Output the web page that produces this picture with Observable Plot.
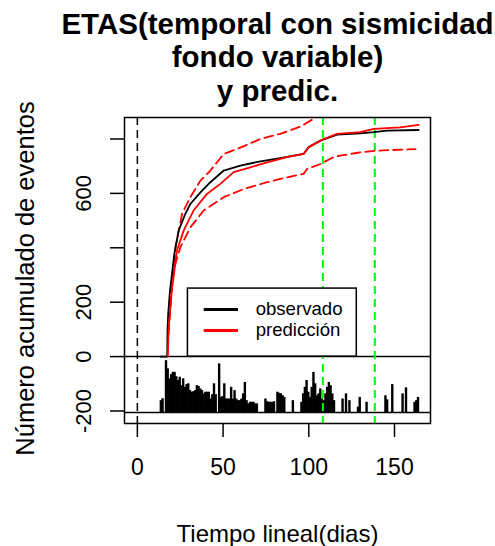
<!DOCTYPE html>
<html><head><meta charset="utf-8">
<script src="https://cdn.jsdelivr.net/npm/d3@7"></script>
<script src="https://cdn.jsdelivr.net/npm/@observablehq/plot@0.6"></script>
<style>body{margin:0;background:#fff}</style>
</head><body><div id="chart"></div>
<script>
// ---- text ----
const titleLines = ["ETAS(temporal con sismicidad", "fondo variable)", "y predic."];
const xTitle = "Tiempo lineal(dias)";
const yTitle = "Número acumulado de eventos";
const xTicks = [0, 50, 100, 150];
const yTicks = [-200, 0, 200, 400, 600, 800];
const yTickLabelsShown = [-200, 0, 200, 600];
const legendLabels = ["observado", "predicción"];
const legendColors = ["black", "red"];

// ---- series ----
const obsX  = [13.5, 17.4, 17.6, 18, 19, 20.2, 21.6, 24.1, 28, 30.9, 36.8, 42.6, 50.4, 60.1, 71.8, 83.4, 97, 99.9, 106.8, 116.5, 130, 137.9, 145.7, 164.1];
const obsY  = [0, 0, 100, 158, 240, 304, 378, 463, 525, 561, 604, 641, 684, 702, 718, 730, 745, 770, 794, 816, 821, 825, 831, 833];
const predX = [17.8, 18.2, 19, 20, 21.6, 23.1, 27, 32.8, 40.6, 48.4, 56.2, 65.9, 75.7, 87.3, 97, 100, 108.7, 116.5, 130, 137.9, 153.4, 164.1];
const predY = [0, 100, 158, 240, 316, 390, 463, 537, 598, 635, 678, 696, 714, 733, 745, 770, 800, 819, 825, 837, 843, 852];
const upX   = [18.2, 20.2, 22.2, 26.1, 30.9, 36.8, 42.6, 50.4, 60.1, 71.8, 83.4, 95, 103, 110, 130, 164];
const upY   = [84, 255, 402, 525, 586, 647, 684, 745, 768, 800, 819, 845, 875, 900, 920, 935];
const loX   = [19, 20.2, 22.2, 25.1, 30.9, 38.7, 50.4, 62, 75.7, 87.3, 97, 99, 106.8, 114.4, 118.4, 130, 139.8, 162.3];
const loY   = [180, 267, 341, 402, 475, 537, 586, 616, 641, 659, 672, 690, 708, 733, 739, 751, 757, 763];
const refLineX = [0];
const forecastLinesX = [108.2, 138.5];
const barBase = -206;
const barDays    = [14, 15, 17, 18, 19, 20, 21, 22, 23, 24, 25, 26, 27, 28, 29, 30, 31, 32, 33, 34, 35, 36, 37, 38, 39, 40, 41, 42, 43, 44, 45, 46, 48, 49, 50, 51, 52, 53, 54, 55, 56, 57, 58, 59, 60, 61, 62, 63, 64, 65, 66, 67, 68, 69, 70, 75, 76, 77, 78, 79, 80, 82, 83, 84, 85, 86, 91, 96, 97, 98, 99, 100, 101, 102, 103, 104, 105, 106, 107, 108, 109, 110, 111, 112, 113, 114, 115, 120, 122, 124, 129, 130, 134, 145, 146, 149, 155, 157, 162, 163, 164];
const barHeights = [44, 51, 191, 161, 124, 140, 148, 148, 132, 118, 130, 99, 124, 93, 103, 106, 81, 75, 77, 81, 99, 96, 87, 81, 69, 75, 75, 75, 50, 66, 106, 66, 179, 56, 59, 106, 50, 50, 50, 93, 50, 81, 50, 44, 44, 50, 69, 111, 44, 32, 38, 38, 38, 32, 32, 50, 40, 38, 38, 38, 40, 75, 71, 69, 62, 56, 44, 38, 69, 93, 118, 75, 56, 93, 148, 106, 62, 69, 87, 50, 44, 69, 93, 111, 99, 69, 44, 50, 69, 44, 20, 56, 38, 62, 47, 103, 69, 91, 38, 44, 56];

// legend placement (data units, as in R's legend(x, y))
const legendBox = [{x1: 29.5, x2: 128, y1: 0, y2: 250}];
const legendRowY = [173, 96];
const legendLineX = [39, 59];
const legendTextX = 69;

// ---- build ----
const pts = (xs, ys) => xs.map((x, i) => ({x, y: ys[i]}));
const bars = barDays.map((d, i) => ({x1: d - 0.7, x2: d + 0.7, y1: barBase, y2: barBase + barHeights[i]}));
const legendRows = legendLabels.map((l, i) => ({label: l, color: legendColors[i], y: legendRowY[i]}));
const font = "'Liberation Sans', Arial, sans-serif";

const plot = Plot.plot({
  width: 495, height: 546,
  marginLeft: 124, marginRight: 65, marginTop: 117, marginBottom: 123,
  x: {domain: [-7.5, 171]},
  y: {domain: [-246, 879]},
  style: {fontFamily: font, background: "white", color: "black"},
  marks: [
    Plot.rect(bars, {x1: "x1", x2: "x2", y1: "y1", y2: "y2", fill: "black", inset: 0}),
    Plot.ruleY([0], {stroke: "black", strokeWidth: 1.5}),
    Plot.ruleY([barBase], {stroke: "black", strokeWidth: 1.5}),
    Plot.ruleX(refLineX, {stroke: "black", strokeWidth: 1.5, strokeDasharray: "8,5"}),
    Plot.ruleX(forecastLinesX, {stroke: "#00ff00", strokeWidth: 2, strokeDasharray: "8,5"}),
    Plot.line(pts(upX, upY), {x: "x", y: "y", stroke: "red", strokeWidth: 1.8, strokeDasharray: "9,5", clip: true}),
    Plot.line(pts(loX, loY), {x: "x", y: "y", stroke: "red", strokeWidth: 1.8, strokeDasharray: "9,5"}),
    Plot.line(pts(obsX, obsY), {x: "x", y: "y", stroke: "black", strokeWidth: 1.8}),
    Plot.line(pts(predX, predY), {x: "x", y: "y", stroke: "red", strokeWidth: 1.8}),
    // legend
    Plot.rect(legendBox, {x1: "x1", x2: "x2", y1: "y1", y2: "y2", fill: "white", stroke: "black", strokeWidth: 1.5}),
    Plot.ruleY(legendRows, {y: "y", x1: () => legendLineX[0], x2: () => legendLineX[1], stroke: "color", strokeWidth: 3}),
    Plot.text(legendRows, {x: () => legendTextX, y: "y", text: "label", textAnchor: "start", fontSize: 18.6, fill: "black"}),
    Plot.frame({stroke: "black", strokeWidth: 1.5}),
    // axes
    Plot.axisX(xTicks, {tickSize: 14, tickPadding: 21, fontSize: 23, strokeWidth: 1.5, label: null}),
    Plot.axisY(yTicks, {tickSize: 14, tickPadding: 20, fontSize: 22, strokeWidth: 1.5, tickRotate: -90,
      tickFormat: d => yTickLabelsShown.includes(d) ? String(d) : "", label: null}),
    // titles
    Plot.text([titleLines.join("\n")], {text: d => d, frameAnchor: "top", dy: -17, lineAnchor: "bottom", lineHeight: 1.12, fontSize: 29.5, fontWeight: "bold"}),
    Plot.text([xTitle], {text: d => d, frameAnchor: "bottom", dy: 118, lineAnchor: "bottom", fontSize: 24}),
    Plot.text([yTitle], {text: d => d, frameAnchor: "left", dx: -91, dy: 8, rotate: -90, textAnchor: "middle", lineAnchor: "bottom", fontSize: 25.5})
  ]
});
document.getElementById("chart").appendChild(plot);
</script></body></html>
